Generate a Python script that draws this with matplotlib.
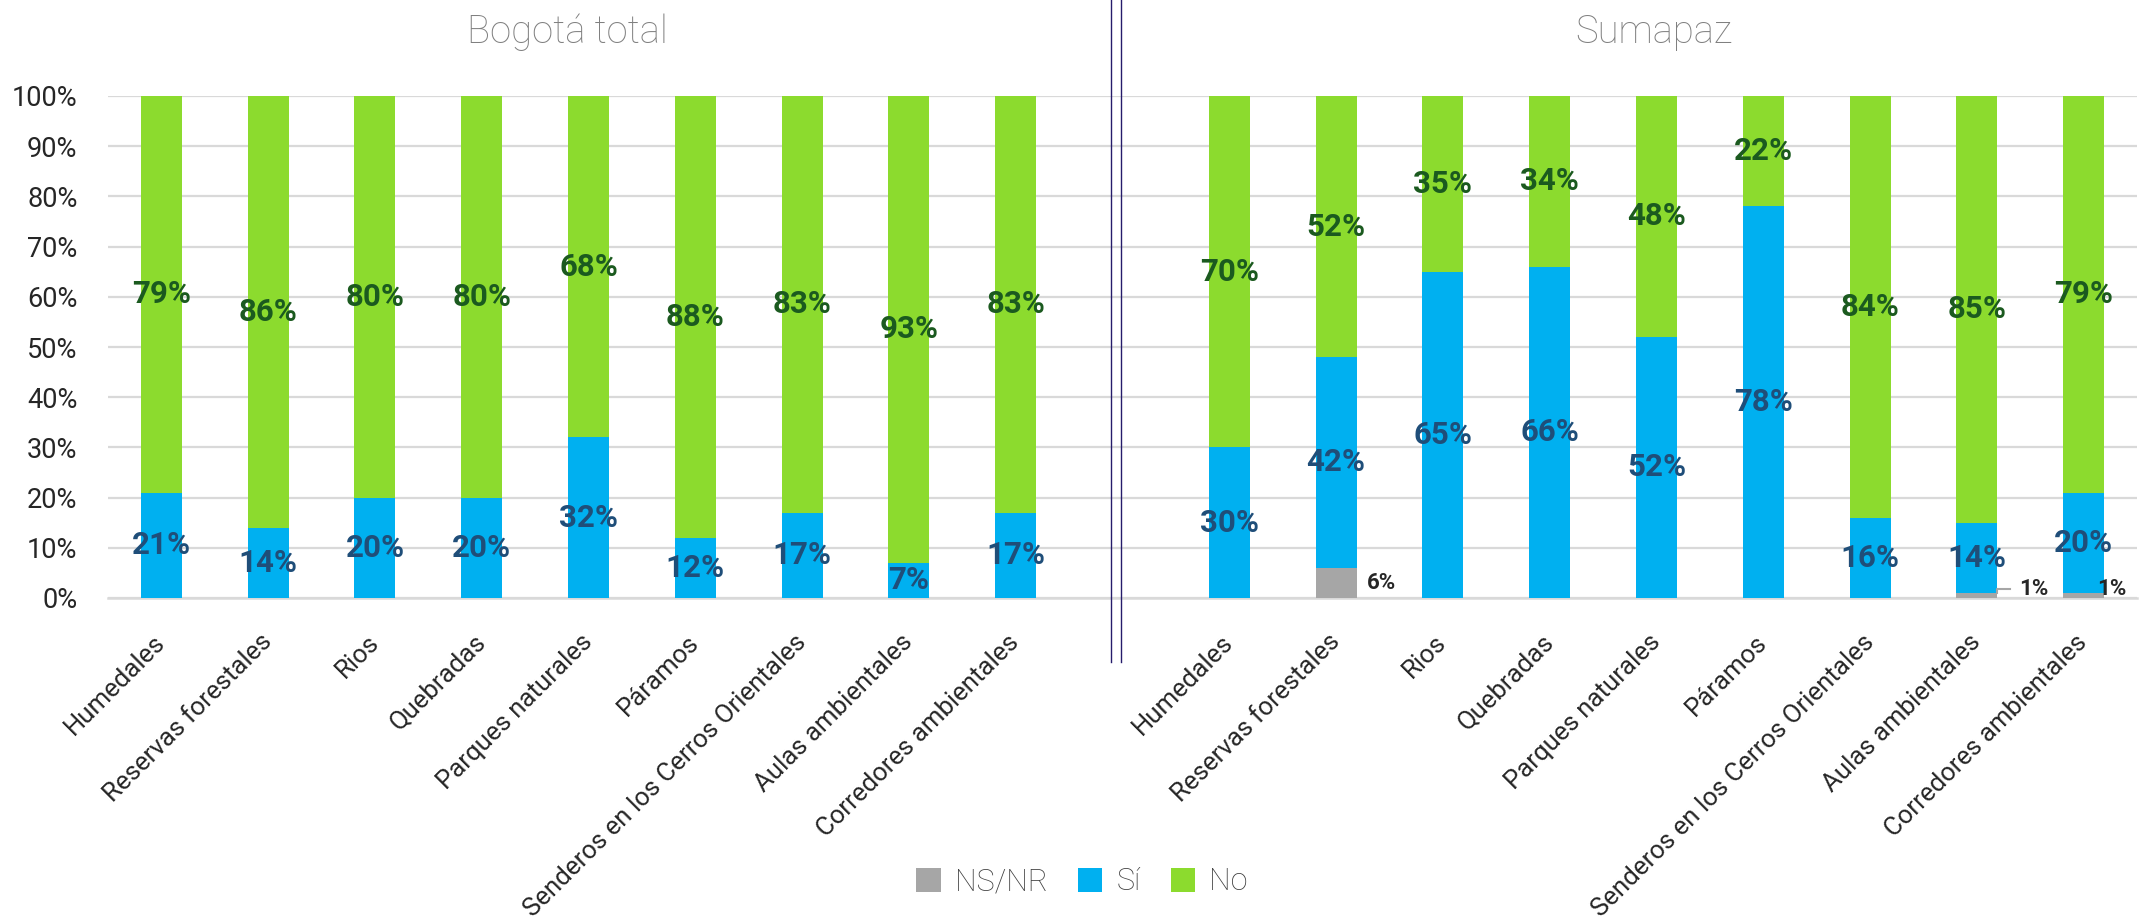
import matplotlib
matplotlib.use("Agg")
import matplotlib.pyplot as plt
from matplotlib import font_manager as fm
from matplotlib.patches import Patch
from matplotlib.lines import Line2D
import numpy as np

# ---------------- data ----------------
categories = ["Humedales", "Reservas forestales", "Rios", "Quebradas",
              "Parques naturales", "Páramos", "Senderos en los Cerros Orientales",
              "Aulas ambientales", "Corredores ambientales"]
groups = ["Bogotá total", "Sumapaz"]

bog_nsnr = [0, 0, 0, 0, 0, 0, 0, 0, 0]
bog_si = [21, 14, 20, 20, 32, 12, 17, 7, 17]
bog_no = [79, 86, 80, 80, 68, 88, 83, 93, 83]

sum_nsnr = [0, 6, 0, 0, 0, 0, 0, 1, 1]
sum_si = [30, 42, 65, 66, 52, 78, 16, 14, 20]
sum_no = [70, 52, 35, 34, 48, 22, 84, 85, 79]

series_names = ["NS/NR", "Sí", "No"]
yticks = [0, 10, 20, 30, 40, 50, 60, 70, 80, 90, 100]

# ---------------- fonts ----------------
avail = {f.name for f in fm.fontManager.ttflist}
def pick(*names):
    for n in names:
        if n in avail:
            return n
    return "DejaVu Sans"
NARROW = pick("Liberation Sans Narrow", "DejaVu Sans Condensed", "Roboto", "Liberation Sans")
plt.rcParams["font.family"] = [NARROW, "DejaVu Sans"]

C_NS = "#a6a6a6"
C_SI = "#00b0f0"
C_NO = "#8cdb2e"
T_SI = "#1f4e79"
T_NO = "#1b5a1f"
T_NS = "#262626"

W, H = 2142, 924
fig = plt.figure(figsize=(W / 100, H / 100), dpi=100)
ax = fig.add_axes([108 / W, 1 - 598 / H, 2029 / W, (598 - 96) / H])

nsnr = bog_nsnr + [0] + sum_nsnr
si = bog_si + [0] + sum_si
no = bog_no + [0] + sum_no
x = np.arange(len(nsnr))
valid = np.array([i != len(bog_si) for i in x])
xv = x[valid]
ns_v = np.array(nsnr)[valid]
si_v = np.array(si)[valid]
no_v = np.array(no)[valid]

bw = 0.384
ax.bar(xv, ns_v, bw, color=C_NS, zorder=3)
ax.bar(xv, si_v, bw, bottom=ns_v, color=C_SI, zorder=3)
ax.bar(xv, no_v, bw, bottom=ns_v + si_v, color=C_NO, zorder=3)

ax.set_xlim(-0.5, len(x) - 0.5)
ax.set_ylim(0, 100)
ax.set_yticks(yticks)
ax.set_yticklabels([f"{t}%" for t in yticks], fontsize=19.5, color="#262626")
ax.set_xticks(xv)
ax.set_xticklabels(categories + categories, rotation=45, ha="right", va="center",
                   rotation_mode="anchor", fontsize=18.5, color="#262626")
ax.tick_params(axis="y", length=0, pad=22)
ax.tick_params(axis="x", length=0, pad=29)
ax.grid(axis="y", color="#d9d9d9", linewidth=1.6, zorder=0)
ax.set_axisbelow(True)
for s in ["left", "right", "top"]:
    ax.spines[s].set_visible(False)
ax.spines["bottom"].set_color("#d9d9d9")
ax.spines["bottom"].set_linewidth(1.8)

lab_fs = 22.5
for xi, n, s_, o in zip(xv, ns_v, si_v, no_v):
    if s_ > 0:
        ax.text(xi, n + s_ / 2, f"{s_}%", ha="center", va="center",
                fontsize=lab_fs, fontweight="bold", color=T_SI, zorder=5)
    if o > 0:
        ax.text(xi, n + s_ + o / 2, f"{o}%", ha="center", va="center",
                fontsize=lab_fs, fontweight="bold", color=T_NO, zorder=5)

# NS/NR labels (right group)
for xi, n in zip(xv, ns_v):
    if n > 0:
        if n >= 5:
            ax.text(xi + bw / 2 + 0.1, n / 2, f"{n}%", ha="left", va="center",
                    fontsize=16, fontweight="bold", color=T_NS, zorder=5)
        elif xi < len(x) - 1:
            ax.plot([xi + bw / 2, xi + bw / 2, xi + bw / 2 + 0.12],
                    [n, 1.8, 1.8], color="#a6a6a6", lw=1.5, zorder=4, clip_on=False)
            ax.text(xi + bw / 2 + 0.2, 1.8, f"{n}%", ha="left", va="center",
                    fontsize=16, fontweight="bold", color=T_NS, zorder=5)
        else:
            ax.text(xi + bw / 2 - 0.07, 1.8, f"{n}%", ha="left", va="center",
                    fontsize=16, fontweight="bold", color=T_NS, zorder=5,
                    clip_on=False)

# group titles
for gx, g in zip((567, 1654), groups):
    fig.text(gx / W, 1 - 43 / H, g, ha="center", va="baseline",
             fontsize=27.5, fontweight="light", color="#808080")

# separator double line
for xs in (1111, 1121):
    fig.add_artist(Line2D([xs / W, xs / W], [1, 1 - 662 / H],
                          color="#261c6b", lw=1.0, transform=fig.transFigure))

# legend
handles = [Patch(facecolor=c, edgecolor="none") for c in (C_NS, C_SI, C_NO)]
leg = fig.legend(handles, series_names, loc="center", bbox_to_anchor=(1082 / W, 1 - 882 / H),
                 ncol=3, frameon=False, handlelength=0.8, handleheight=0.8,
                 handletextpad=0.45, columnspacing=1.0,
                 prop={"size": 22, "weight": "light"})
for t in leg.get_texts():
    t.set_color("#404040")

fig.savefig("out.png", dpi=100)
